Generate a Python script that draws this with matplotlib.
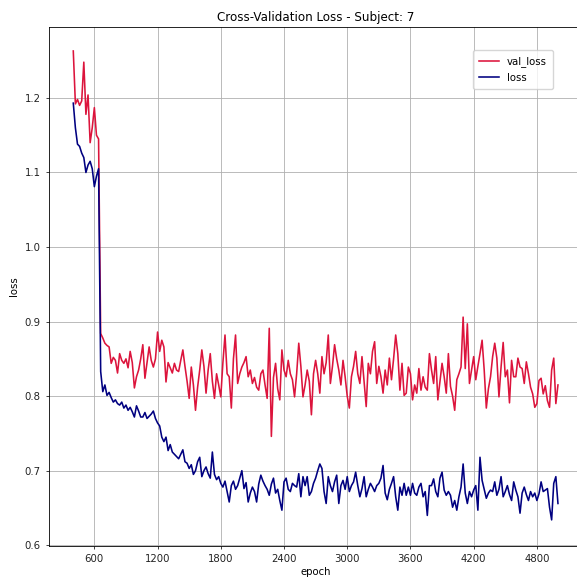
import numpy as np
import matplotlib
matplotlib.use("Agg")
from matplotlib import pyplot as plt

# epochs logged every 20, from 400 to 5000
epochs = np.arange(400, 5001, 20)

val_loss = [
    1.263, 1.192, 1.198, 1.190, 1.196, 1.248, 1.178, 1.204, 1.140, 1.160,  # 400
    1.187, 1.150, 1.145, 0.884, 0.878, 0.871, 0.868, 0.866, 0.844, 0.852,  # 600
    0.848, 0.831, 0.857, 0.848, 0.844, 0.850, 0.838, 0.860, 0.845, 0.811,  # 800
    0.826, 0.835, 0.850, 0.869, 0.824, 0.845, 0.866, 0.848, 0.839, 0.850,  # 1000
    0.886, 0.860, 0.875, 0.866, 0.819, 0.845, 0.838, 0.831, 0.844, 0.835,  # 1200
    0.833, 0.848, 0.862, 0.840, 0.820, 0.797, 0.839, 0.815, 0.781, 0.812,  # 1400
    0.835, 0.862, 0.840, 0.804, 0.835, 0.857, 0.820, 0.797, 0.830, 0.815,  # 1600
    0.799, 0.845, 0.882, 0.830, 0.826, 0.784, 0.850, 0.882, 0.817, 0.830,  # 1800
    0.839, 0.845, 0.853, 0.826, 0.835, 0.817, 0.825, 0.812, 0.808, 0.830,  # 2000
    0.835, 0.815, 0.797, 0.891, 0.746, 0.825, 0.844, 0.810, 0.795, 0.862,  # 2200
    0.835, 0.826, 0.848, 0.830, 0.822, 0.799, 0.830, 0.871, 0.840, 0.799,  # 2400
    0.815, 0.835, 0.820, 0.775, 0.830, 0.848, 0.830, 0.804, 0.853, 0.830,  # 2600
    0.845, 0.882, 0.817, 0.840, 0.869, 0.850, 0.835, 0.815, 0.848, 0.826,  # 2800
    0.800, 0.784, 0.826, 0.840, 0.860, 0.830, 0.817, 0.853, 0.820, 0.786,  # 3000
    0.844, 0.830, 0.860, 0.873, 0.817, 0.840, 0.826, 0.804, 0.835, 0.815,  # 3200
    0.851, 0.822, 0.850, 0.882, 0.857, 0.808, 0.844, 0.801, 0.804, 0.839,  # 3400
    0.830, 0.795, 0.815, 0.804, 0.837, 0.808, 0.826, 0.812, 0.808, 0.857,  # 3600
    0.835, 0.817, 0.853, 0.795, 0.820, 0.844, 0.826, 0.804, 0.857, 0.813,  # 3800
    0.800, 0.781, 0.822, 0.830, 0.839, 0.906, 0.837, 0.897, 0.817, 0.835,  # 4000
    0.853, 0.822, 0.840, 0.857, 0.875, 0.835, 0.784, 0.810, 0.826, 0.853,  # 4200
    0.871, 0.851, 0.799, 0.839, 0.872, 0.826, 0.835, 0.791, 0.848, 0.826,  # 4400
    0.826, 0.851, 0.839, 0.837, 0.817, 0.846, 0.830, 0.812, 0.803, 0.785,  # 4600
    0.790, 0.821, 0.824, 0.803, 0.814, 0.794, 0.785, 0.835, 0.851, 0.790,  # 4800
    0.815,
]

loss = [
    1.193, 1.160, 1.138, 1.135, 1.126, 1.120, 1.100, 1.110, 1.115, 1.105,  # 400
    1.081, 1.095, 1.105, 0.833, 0.806, 0.815, 0.801, 0.805, 0.798, 0.792,  # 600
    0.795, 0.790, 0.788, 0.792, 0.784, 0.788, 0.781, 0.785, 0.779, 0.772,  # 800
    0.787, 0.780, 0.772, 0.772, 0.778, 0.770, 0.773, 0.776, 0.780, 0.770,  # 1000
    0.764, 0.760, 0.745, 0.739, 0.745, 0.727, 0.735, 0.725, 0.722, 0.719,  # 1200
    0.716, 0.722, 0.728, 0.712, 0.710, 0.703, 0.708, 0.695, 0.700, 0.712,  # 1400
    0.718, 0.692, 0.700, 0.705, 0.696, 0.690, 0.725, 0.695, 0.688, 0.692,  # 1600
    0.683, 0.678, 0.686, 0.672, 0.658, 0.680, 0.686, 0.675, 0.680, 0.690,  # 1800
    0.700, 0.676, 0.684, 0.658, 0.670, 0.678, 0.672, 0.658, 0.682, 0.694,  # 2000
    0.686, 0.680, 0.675, 0.667, 0.682, 0.690, 0.670, 0.675, 0.660, 0.647,  # 2200
    0.685, 0.690, 0.675, 0.672, 0.683, 0.680, 0.678, 0.696, 0.665, 0.692,  # 2400
    0.680, 0.692, 0.667, 0.672, 0.683, 0.690, 0.700, 0.709, 0.703, 0.672,  # 2600
    0.656, 0.692, 0.680, 0.672, 0.685, 0.694, 0.656, 0.680, 0.687, 0.675,  # 2800
    0.692, 0.672, 0.680, 0.685, 0.698, 0.680, 0.665, 0.676, 0.692, 0.665,  # 3000
    0.675, 0.683, 0.678, 0.672, 0.680, 0.683, 0.690, 0.707, 0.670, 0.661,  # 3200
    0.675, 0.683, 0.692, 0.665, 0.647, 0.678, 0.667, 0.683, 0.667, 0.678,  # 3400
    0.667, 0.683, 0.670, 0.667, 0.678, 0.683, 0.665, 0.672, 0.640, 0.680,  # 3600
    0.680, 0.689, 0.672, 0.665, 0.690, 0.698, 0.674, 0.667, 0.672, 0.667,  # 3800
    0.651, 0.660, 0.647, 0.665, 0.678, 0.709, 0.670, 0.656, 0.672, 0.665,  # 4000
    0.674, 0.680, 0.647, 0.718, 0.687, 0.675, 0.663, 0.670, 0.674, 0.672,  # 4200
    0.685, 0.667, 0.675, 0.692, 0.665, 0.672, 0.680, 0.668, 0.660, 0.685,  # 4400
    0.674, 0.665, 0.643, 0.670, 0.678, 0.668, 0.660, 0.672, 0.665, 0.670,  # 4600
    0.660, 0.669, 0.685, 0.672, 0.674, 0.676, 0.651, 0.634, 0.683, 0.692,  # 4800
    0.656,
]

assert len(val_loss) == len(epochs) and len(loss) == len(epochs)

xticks = [600, 1200, 1800, 2400, 3000, 3600, 4200, 4800]
yticks = [0.6, 0.7, 0.8, 0.9, 1.0, 1.1, 1.2]

fig = plt.figure(figsize=(5.77, 5.83), dpi=100)
# the axes run past the right edge of the picture, like the cropped original
ax = fig.add_axes([0.085, 0.0635, 0.924, 0.890])

ax.plot(epochs, val_loss, color='crimson', linewidth=1.15, label='val_loss')
ax.plot(epochs, loss, color='navy', linewidth=1.15, label='loss')

ax.set_xlim(170, 5230)
ax.set_ylim(0.599, 1.295)
ax.set_xticks(xticks)
ax.set_yticks(yticks)
ax.set_yticklabels([f'{v:.1f}' for v in yticks])
ax.tick_params(labelsize=7.3, length=2.5, width=0.6, colors='#222222')
ax.grid(True, color='#b0b0b0', linewidth=0.6)
for s in ax.spines.values():
    s.set_linewidth(0.6)

ax.set_title('Cross-Validation Loss - Subject: 7', fontsize=8.6, pad=4.5)
ax.set_xlabel('epoch', fontsize=7.3, labelpad=2)
ax.set_ylabel('loss', fontsize=7.3, labelpad=4)

ax.legend(loc='upper right', bbox_to_anchor=(0.955, 0.965), fontsize=7.3,
          handlelength=2.0, borderpad=0.6, labelspacing=0.55)

fig.savefig('out.png', dpi=100)
